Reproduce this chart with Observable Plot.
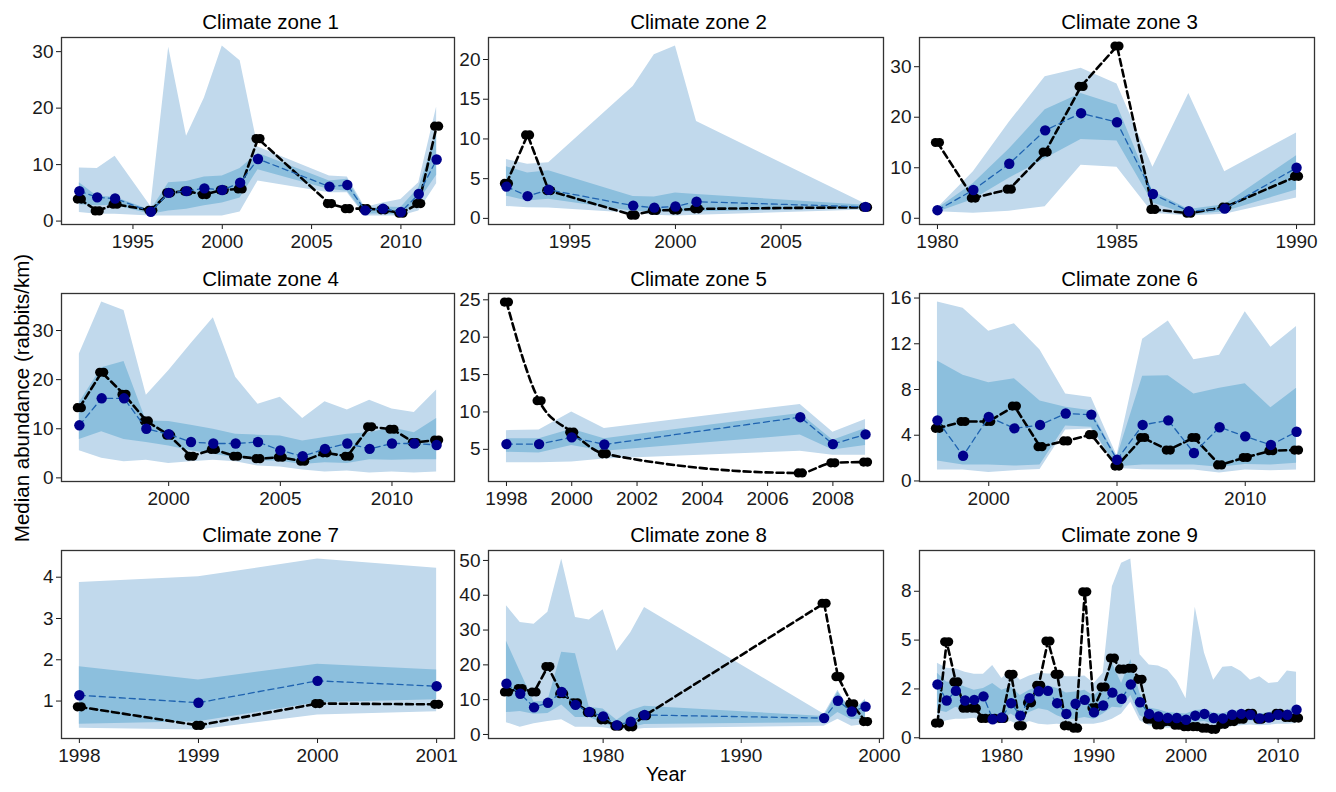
<!DOCTYPE html>
<html>
<head>
<meta charset="utf-8">
<script src="https://cdn.jsdelivr.net/npm/d3@7"></script>
<script src="https://cdn.jsdelivr.net/npm/@observablehq/plot@0.6"></script>
<style>
  html, body { margin: 0; padding: 0; background: #ffffff; }
  #chart { position: relative; width: 1336px; height: 792px; background: #ffffff; overflow: hidden; }
  #chart svg.panel { position: absolute; display: block; overflow: visible; }
</style>
</head>
<body>
<div id="chart"></div>
<script>
// ---------------- DATA ----------------
const zoneTitles = ["Climate zone 1","Climate zone 2","Climate zone 3","Climate zone 4","Climate zone 5","Climate zone 6","Climate zone 7","Climate zone 8","Climate zone 9"];

const years = [
  [1992,1993,1994,1996,1997,1998,1999,2000,2001,2002,2006,2007,2008,2009,2010,2011,2012],
  [1992,1993,1994,1998,1999,2000,2001,2009],
  [1980,1981,1982,1983,1984,1985,1986,1987,1988,1990],
  [1996,1997,1998,1999,2000,2001,2002,2003,2004,2005,2006,2007,2008,2009,2010,2011,2012],
  [1998,1999,2000,2001,2007,2008,2009],
  [1998,1999,2000,2001,2002,2003,2004,2005,2006,2007,2008,2009,2010,2011,2012],
  [1998,1999,2000,2001],
  [1973,1974,1975,1976,1977,1978,1979,1980,1981,1982,1983,1996,1997,1998,1999],
  [1973,1974,1975,1976,1977,1978,1979,1980,1981,1982,1983,1984,1985,1986,1987,1988,1989,1990,1991,1992,
   1993,1994,1995,1996,1997,1998,1999,2000,2001,2002,2003,2004,2005,2006,2007,2008,2009,2010,2011,2012]
];

// predicted median (blue points, dashed blue line)
const predicted = [
  [5.3,4.2,4.0,1.65,5.0,5.3,5.8,5.5,6.8,11.0,6.1,6.4,1.9,2.2,1.6,4.8,10.9],
  [4.0,2.8,3.6,1.6,1.35,1.5,2.1,1.45],
  [1.6,5.6,10.8,17.4,20.8,19.0,4.8,1.4,1.9,10.0],
  [10.7,16.2,16.2,10.0,8.9,7.3,7.0,7.0,7.3,5.6,4.4,5.9,7.0,5.9,7.0,7.0,6.7],
  [5.7,5.7,6.6,5.65,9.3,5.7,7.0],
  [5.3,2.2,5.6,4.6,4.9,5.9,5.8,1.85,4.9,5.3,2.45,4.7,3.9,3.15,4.3],
  [1.14,0.96,1.49,1.36],
  [14.6,11.7,7.8,9.1,12.2,8.5,6.5,5.2,2.7,3.7,5.6,4.7,9.7,6.6,8.0],
  [2.73,1.91,2.40,1.91,1.94,2.12,0.95,1.04,1.77,1.13,2.03,2.38,2.40,1.77,1.22,1.74,1.94,1.30,1.65,2.31,
   2.00,2.73,1.82,1.22,1.09,1.01,1.01,0.92,1.13,1.22,1.01,0.99,1.18,1.22,1.18,0.99,1.04,1.18,1.18,1.44]
];

// observed median (black points, dashed black line)
const observed = [
  [3.9,1.8,3.0,1.9,5.0,5.3,4.7,5.5,5.7,14.6,3.1,2.2,2.2,2.0,1.4,3.1,16.8],
  [4.4,10.5,3.5,0.4,1.0,1.05,1.2,1.4],
  [15.0,4.0,5.75,13.1,26.1,34.1,1.75,1.0,2.2,8.3],
  [14.3,21.5,17.0,11.6,8.7,4.4,5.8,4.4,3.9,4.2,3.4,5.1,4.4,10.4,9.9,7.2,7.7],
  [24.7,11.5,7.3,4.4,1.84,3.2,3.3],
  [4.6,5.2,5.2,6.55,3.0,3.5,4.05,1.3,3.8,2.7,3.8,1.4,2.05,2.65,2.7],
  [0.86,0.41,0.94,0.92],
  [12.2,13.2,12.2,19.5,11.7,9.1,6.3,4.2,2.4,2.2,5.4,37.7,16.6,8.8,3.7],
  [0.75,4.91,2.86,1.51,1.51,0.99,0.99,0.99,3.25,0.61,1.79,2.69,4.95,3.25,0.61,0.49,7.47,1.53,2.60,4.08,
   3.51,3.56,2.99,0.95,0.66,0.83,0.64,0.57,0.57,0.49,0.43,0.69,0.83,0.95,1.25,0.95,1.04,1.25,1.04,1.01]
];

// outer (wide, light) interval
const outerLow = [
  [1.5,1.2,1.2,0.9,0.9,0.9,0.9,0.9,1.6,7.1,5.0,5.0,0.9,0.9,0.9,1.8,6.6],
  [1.5,1.35,1.3,0.65,0.4,0.3,0.4,1.05],
  [1.3,1.0,1.4,2.3,10.5,10.1,1.0,0.45,0.8,4.0],
  [5.5,4.0,3.3,3.6,2.9,3.3,3.6,3.3,2.4,2.2,1.6,1.2,1.4,1.0,1.2,1.0,1.2],
  [3.2,3.2,3.3,3.7,4.75,4.2,4.2],
  [0.95,0.95,0.75,0.9,1.0,4.45,4.55,1.1,0.97,0.95,0.95,0.7,0.95,0.9,0.95],
  [0.34,0.30,0.66,0.74],
  [3.4,2.1,3.1,3.7,4.2,2.1,2.1,1.9,1.3,1.3,1.7,2.4,4.4,2.4,2.9],
  [0.61,0.87,0.95,0.95,1.0,0.87,0.69,0.73,0.83,0.61,0.83,0.69,0.66,0.69,0.66,0.69,0.69,0.69,0.78,0.95,
   1.22,1.82,0.87,0.61,0.56,0.49,0.52,0.43,0.43,0.43,0.40,0.43,0.56,0.61,0.66,0.61,0.64,0.69,0.69,0.73]
];
const outerHigh = [
  [9.4,9.3,11.5,2.6,30.8,15.0,21.8,31.0,28.4,13.1,8.0,7.8,2.4,3.2,3.8,6.8,20.2],
  [7.4,6.8,7.0,16.6,20.6,21.7,12.2,1.8],
  [2.0,9.2,19.0,28.0,29.7,26.6,10.1,24.7,9.2,16.9],
  [25.2,35.8,34.1,16.8,21.8,27.3,32.6,20.5,15.0,16.4,12.1,15.5,13.8,15.8,14.0,13.3,17.9],
  [7.5,7.6,10.0,7.8,11.0,7.3,9.0],
  [15.65,15.1,13.1,13.75,11.45,7.6,7.3,2.2,12.4,14.0,10.6,11.0,14.8,11.7,13.5],
  [3.87,4.01,4.44,4.22],
  [37.0,32.2,31.7,35.1,50.4,33.6,32.9,35.8,23.9,29.2,36.5,5.8,12.7,6.3,10.2],
  [3.82,3.56,3.52,3.35,3.25,3.25,3.70,3.04,3.44,2.95,3.16,3.30,3.26,3.26,3.13,3.13,3.16,2.78,3.30,7.73,
   8.94,9.15,4.25,3.73,3.68,3.47,2.90,2.00,6.68,4.34,2.95,3.61,3.65,3.39,2.95,3.13,2.78,2.83,3.42,3.35]
];

// inner (narrow, darker) interval
const innerLow = [
  [2.9,2.7,2.8,1.2,1.8,2.1,2.7,3.2,4.1,9.1,5.6,5.3,1.2,1.3,1.0,3.5,8.1],
  [2.8,2.2,2.4,0.9,0.85,0.85,0.85,1.2],
  [1.2,3.7,7.9,11.8,15.6,15.3,3.0,0.65,1.3,5.6],
  [7.8,9.4,7.8,7.2,6.5,5.5,4.8,4.1,3.5,3.4,2.7,3.1,2.9,3.7,3.6,3.7,3.7],
  [4.6,4.5,5.5,4.75,6.9,4.9,5.5],
  [1.75,1.4,1.4,1.3,1.4,4.8,4.7,1.25,1.4,1.4,1.4,1.2,1.45,1.4,1.55],
  [0.44,0.50,0.96,1.03],
  [6.3,6.6,5.8,6.0,8.5,4.9,4.9,3.2,1.75,1.9,2.9,3.4,6.3,4.2,4.4],
  [1.39,1.30,1.56,1.39,1.48,1.18,0.83,0.92,1.22,0.92,1.30,1.48,1.39,1.13,0.95,0.95,1.04,0.95,1.22,1.56,
   1.53,2.17,1.13,0.87,0.78,0.75,0.75,0.69,0.78,0.83,0.69,0.73,0.83,0.87,0.87,0.78,0.78,0.92,0.90,1.04]
];
const innerHigh = [
  [6.8,4.4,4.2,1.9,6.8,7.0,7.8,8.0,9.3,12.0,7.1,7.4,2.1,2.5,2.4,5.9,15.4],
  [6.5,5.7,6.0,2.75,2.7,3.2,3.0,1.65],
  [1.9,6.9,13.7,21.5,24.7,22.4,5.3,1.75,2.7,12.4],
  [15.3,22.4,23.7,11.6,11.5,10.7,9.9,8.9,8.7,8.5,7.5,8.2,8.9,9.2,10.2,9.2,12.1],
  [6.4,6.4,7.7,6.4,9.8,6.2,7.8],
  [10.5,9.25,8.6,8.95,7.0,6.45,6.15,2.05,9.15,9.2,7.6,8.1,8.5,6.4,8.1],
  [1.83,1.51,1.89,1.75],
  [26.8,18.0,9.3,9.6,23.6,23.2,7.8,7.3,4.1,6.8,8.1,5.2,12.2,6.8,9.7],
  [3.30,2.86,2.81,2.60,2.43,2.52,2.78,2.43,2.60,2.17,2.43,2.60,2.66,2.52,2.29,2.34,2.43,2.14,2.60,3.82,
   2.78,3.99,2.26,1.53,1.44,1.30,1.25,1.22,1.39,1.44,1.25,1.22,1.39,1.39,1.39,1.22,1.30,1.39,1.34,1.65]
];

// axis ticks and labels
const xTicks = [
  [1995,2000,2005,2010],
  [1995,2000,2005],
  [1980,1985,1990],
  [2000,2005,2010],
  [1998,2000,2002,2004,2006,2008],
  [2000,2005,2010],
  [1998,1999,2000,2001],
  [1980,1990,2000],
  [1980,1990,2000,2010]
];
const yTicks = [
  [0,10,20,30],
  [0,5,10,15,20],
  [0,10,20,30],
  [0,10,20,30],
  [5,10,15,20,25],
  [0,4,8,12,16],
  [1,2,3,4],
  [0,10,20,30,40,50],
  [0,2.5,5,7.5]
];
const yTickLabels = [
  ["0","10","20","30"],
  ["0","5","10","15","20"],
  ["0","10","20","30"],
  ["0","10","20","30"],
  ["5","10","15","20","25"],
  ["0","4","8","12","16"],
  ["1","2","3","4"],
  ["0","10","20","30","40","50"],
  ["0","2","5","8"]
];
const xAxisTitle = "Year";
const yAxisTitle = "Median abundance (rabbits/km)";

// ---------------- LAYOUT ----------------
const colLeft = [61, 488, 919];
const colWidth = [393, 395, 395];
const rowTop = [37, 293, 550];
const rowHeight = [187, 188, 188];
const titleBaseline = [29, 286, 542];
const FONT = "'Liberation Sans', Arial, Helvetica, sans-serif";

const chart = document.getElementById("chart");

function expand(lo, hi) {
  const pad = (hi - lo) * 0.05;
  return [lo - pad, hi + pad];
}

for (let i = 0; i < 9; i++) {
  const col = i % 3, row = Math.floor(i / 3);
  const rows = years[i].map((yr, j) => ({
    year: yr,
    pred: predicted[i][j],
    obs: observed[i][j],
    lo1: outerLow[i][j], hi1: outerHigh[i][j],
    lo2: innerLow[i][j], hi2: innerHigh[i][j]
  }));
  const allY = rows.flatMap(r => [r.pred, r.obs, r.lo1, r.hi1, r.lo2, r.hi2]);
  const yDom = expand(d3.min(allY), d3.max(allY));
  const xDom = expand(d3.min(years[i]), d3.max(years[i]));
  const ml = 48, mr = 6, mt = 6, mb = 34;
  const labels = yTickLabels[i], ticks = yTicks[i];

  const svg = Plot.plot({
    width: colWidth[col] + ml + mr,
    height: rowHeight[row] + mt + mb,
    marginLeft: ml, marginRight: mr, marginTop: mt, marginBottom: mb,
    style: { fontFamily: FONT, fontSize: "19px", color: "#1a1a1a", background: "transparent", overflow: "visible" },
    x: { domain: xDom, ticks: xTicks[i], tickFormat: d => String(d), label: null, tickSize: 5, tickPadding: 5 },
    y: { domain: yDom, ticks: ticks, tickFormat: d => labels[ticks.indexOf(d)], label: null, tickSize: 5, tickPadding: 3 },
    marks: [
      Plot.areaY(rows, { x: "year", y1: "lo1", y2: "hi1", fill: "#c1d9ec" }),
      Plot.areaY(rows, { x: "year", y1: "lo2", y2: "hi2", fill: "#8cbfdd" }),
      Plot.lineY(rows, { x: "year", y: "obs", stroke: "#000000", strokeWidth: 2.6, strokeDasharray: "7,4",
                         curve: i === 4 ? "monotone-x" : "linear" }),
      Plot.dot(rows, { x: "year", y: "obs", r: 4.6, fill: "#000000", dx: -2 }),
      Plot.dot(rows, { x: "year", y: "obs", r: 4.6, fill: "#000000", dx: 2 }),
      Plot.lineY(rows, { x: "year", y: "pred", stroke: "#1f63b0", strokeWidth: 1.3, strokeDasharray: "6,4" }),
      Plot.dot(rows, { x: "year", y: "pred", r: 5.2, fill: "#00008b" }),
      Plot.frame({ stroke: "#333333", strokeWidth: 1.3 })
    ]
  });
  svg.classList.add("panel");
  svg.style.left = (colLeft[col] - ml) + "px";
  svg.style.top = (rowTop[row] - mt) + "px";
  chart.appendChild(svg);
}

// titles & axis titles overlay
const ov = d3.select(chart).append("svg")
  .attr("width", 1336).attr("height", 792)
  .style("position", "absolute").style("left", "0px").style("top", "0px")
  .style("pointer-events", "none")
  .style("font-family", FONT);

for (let i = 0; i < 9; i++) {
  const col = i % 3, row = Math.floor(i / 3);
  ov.append("text")
    .attr("x", colLeft[col] + colWidth[col] / 2 + 13)
    .attr("y", titleBaseline[row])
    .attr("text-anchor", "middle")
    .attr("font-size", 20.5)
    .attr("fill", "#000")
    .text(zoneTitles[i]);
}
ov.append("text")
  .attr("x", 666).attr("y", 781)
  .attr("text-anchor", "middle")
  .attr("font-size", 20)
  .attr("fill", "#000")
  .text(xAxisTitle);
ov.append("text")
  .attr("transform", "translate(29,398) rotate(-90)")
  .attr("text-anchor", "middle")
  .attr("font-size", 20.5)
  .attr("fill", "#000")
  .text(yAxisTitle);
</script>
</body>
</html>
